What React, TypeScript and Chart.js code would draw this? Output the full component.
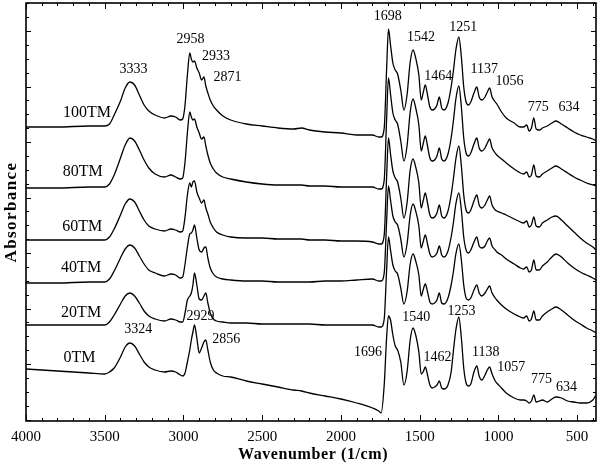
import React, { useEffect, useRef } from 'react';
import { Chart, registerables } from 'chart.js';

Chart.register(...registerables);

const SERIF = '"Liberation Serif", "DejaVu Serif", "Times New Roman", serif';

// Wavenumber grid (1/cm), shared by all spectra
const WAVENUMBERS = [
  4000, 3800, 3600, 3500, 3470, 3440, 3400, 3370, 3340, 3310,
  3280, 3250, 3220, 3180, 3120, 3080, 3050, 3020, 3005, 2990,
  2975, 2960, 2950, 2940, 2930, 2915, 2900, 2885, 2870, 2858,
  2845, 2830, 2810, 2790, 2750, 2700, 2600, 2500, 2400, 2300,
  2250, 2200, 2100, 2000, 1900, 1800,
  1760, 1745, 1725, 1710, 1698, 1685, 1670, 1655, 1640, 1620,
  1600, 1580, 1560, 1542, 1525, 1505, 1490, 1478, 1464, 1450,
  1435, 1420, 1405, 1390, 1375, 1360, 1345, 1320, 1300, 1285,
  1270, 1251, 1235, 1220, 1205, 1190, 1175, 1155, 1137, 1122,
  1105, 1085, 1070, 1056, 1040, 1020, 1010, 980, 950, 900,
  860, 840, 820, 805, 790, 775, 760, 740, 720, 690,
  660, 634, 600, 560, 520, 480, 440, 400, 380,
];

// Stacked absorbance (arbitrary offset units)
const TM100 = [
  294, 294, 295, 295, 297, 306, 320, 333, 339, 336,
  326, 316, 310, 306, 303, 305, 304, 301, 302, 316,
  346, 368, 362, 359, 360, 353, 348, 341, 344, 335,
  328, 321, 315, 311, 305, 301, 297, 295, 293, 292,
  293, 291, 289, 288, 286, 286,
  284, 284, 293, 351, 392, 376, 358, 351, 347, 331,
  311, 326, 359, 371, 363, 346, 321, 328, 336, 326,
  314, 311, 312, 316, 324, 313, 311, 318, 334, 351,
  371, 384, 364, 334, 319, 316, 319, 328, 334, 324,
  321, 324, 329, 333, 324, 319, 317, 309, 303, 298,
  294, 294, 296, 290, 293, 303, 292, 291, 293, 295,
  298, 300, 297, 293, 289, 286, 284, 282, 280,
];

const TM80 = [
  233, 233, 234, 234, 237, 246, 263, 276, 283, 280,
  271, 261, 253, 247, 244, 246, 244, 242, 243, 259,
  288, 309, 304, 301, 302, 294, 288, 282, 284, 275,
  266, 258, 252, 248, 244, 242, 239, 237, 236, 236,
  236, 235, 235, 234, 234, 234,
  232, 232, 241, 301, 343, 327, 308, 301, 297, 280,
  260, 275, 309, 322, 313, 296, 270, 277, 285, 275,
  263, 260, 261, 265, 273, 262, 260, 267, 283, 301,
  322, 335, 314, 283, 268, 265, 268, 277, 283, 273,
  270, 273, 278, 282, 273, 268, 266, 262, 258, 252,
  248, 247, 249, 244, 246, 256, 245, 244, 247, 250,
  253, 255, 252, 248, 244, 241, 238, 236, 235,
];

const TM60 = [
  181, 181, 181, 181, 184, 192, 206, 217, 222, 219,
  210, 201, 195, 192, 190, 192, 191, 189, 190, 204,
  226, 238, 234, 239, 240, 229, 223, 218, 221, 213,
  207, 199, 193, 189, 186, 184, 183, 183, 182, 182,
  182, 181, 181, 180, 180, 179,
  177, 177, 186, 243, 283, 267, 250, 243, 239, 223,
  203, 218, 251, 262, 254, 238, 213, 220, 228, 218,
  206, 203, 204, 208, 216, 205, 203, 210, 226, 243,
  262, 275, 255, 226, 211, 208, 211, 220, 226, 216,
  213, 216, 221, 225, 216, 211, 210, 208, 206, 202,
  199, 198, 200, 194, 196, 204, 195, 194, 198, 201,
  204, 205, 201, 195, 189, 183, 178, 174, 171,
];

const TM40 = [
  138, 138, 139, 139, 142, 150, 163, 172, 176, 173,
  165, 157, 151, 148, 145, 147, 146, 143, 144, 157,
  174, 187, 188, 191, 196, 183, 171, 169, 173, 174,
  163, 153, 147, 144, 142, 141, 140, 140, 139, 139,
  139, 139, 140, 140, 141, 142,
  140, 140, 148, 199, 235, 221, 205, 199, 196, 182,
  164, 177, 206, 217, 210, 195, 173, 179, 186, 177,
  167, 164, 165, 168, 175, 166, 164, 170, 184, 199,
  217, 228, 211, 184, 171, 168, 171, 179, 184, 175,
  173, 175, 180, 183, 175, 171, 169, 166, 162, 157,
  153, 152, 154, 149, 151, 161, 151, 151, 155, 159,
  164, 167, 164, 158, 153, 149, 146, 143, 141,
];

const TM20 = [
  96, 96, 96, 96, 99, 106, 117, 125, 128, 125,
  118, 110, 105, 102, 100, 102, 101, 99, 99, 108,
  121, 125, 128, 136, 148, 136, 122, 121, 125, 128,
  118, 108, 102, 100, 99, 98, 98, 97, 97, 97,
  97, 97, 96, 96, 96, 96,
  94, 94, 102, 150, 184, 171, 156, 150, 147, 133,
  117, 129, 157, 167, 160, 146, 125, 131, 137, 129,
  119, 117, 118, 121, 128, 118, 117, 123, 136, 150,
  167, 177, 161, 136, 123, 121, 123, 131, 136, 128,
  125, 128, 132, 135, 128, 123, 121, 116, 112, 107,
  104, 103, 105, 100, 102, 110, 101, 101, 105, 109,
  112, 114, 111, 106, 101, 97, 93, 90, 88,
];

const TM0 = [
  52, 50, 48, 47, 49, 53, 64, 74, 78, 75,
  67, 59, 54, 51, 49, 50, 49, 46, 45, 48,
  59, 71, 81, 89, 96, 83, 68, 73, 79, 81,
  71, 59, 51, 48, 45, 44, 40, 37, 34, 31,
  30, 28, 25, 22, 18, 13,
  10, 8, 36, 83, 105, 101, 86, 75, 71, 59,
  36, 49, 81, 93, 86, 69, 47, 49, 54, 46,
  36, 33, 34, 36, 40, 33, 32, 36, 49, 71,
  91, 104, 83, 53, 38, 35, 37, 49, 55, 45,
  41, 46, 51, 54, 47, 40, 38, 33, 28, 23,
  21, 21, 20, 18, 20, 26, 19, 20, 21, 19,
  22, 24, 23, 20, 19, 18, 18, 21, 26,
];

const SERIES_NAMES = ['100TM', '80TM', '60TM', '40TM', '20TM', '0TM'];
const SERIES_VALUES = [TM100, TM80, TM60, TM40, TM20, TM0];

// Series name labels (wavenumber, y)
const NAME_LABEL_WN = [3613, 3639, 3643, 3650, 3650, 3660];
const NAME_LABEL_Y = [308, 249, 194, 153, 108, 63];

// Peak annotations
const PEAK_TEXT = [
  '3333', '2958', '2933', '2871', '1698', '1542', '1464', '1251', '1137', '1056', '775', '634',
  '3324', '2929', '2856', '1696', '1540', '1462', '1253', '1138', '1057', '775', '634',
];
const PEAK_WN = [
  3318, 2955, 2793, 2720, 1703, 1492, 1382, 1223, 1089, 930, 747, 551,
  3287, 2892, 2729, 1828, 1522, 1387, 1234, 1080, 919, 726, 567,
];
const PEAK_Y = [
  352, 382, 365, 344, 405, 383.5, 345, 393.5, 352, 340, 313.5, 313.5,
  92, 105, 82, 69, 103.5, 63.5, 110, 69, 53.5, 42, 34,
];

const X_TICKS = [4000, 3500, 3000, 2500, 2000, 1500, 1000, 500];
const X_MINOR_STEP = 100;
const Y_MAJOR_FIRST = 57;
const Y_MAJOR_STEP = 55.5;

const framePlugin = {
  id: 'frameAndText',
  afterDatasetsDraw(chart: any) {
    const { ctx, chartArea: a, scales } = chart;
    const x = scales.x;
    const y = scales.y;
    ctx.save();
    ctx.strokeStyle = '#000';
    ctx.lineWidth = 1.6;
    ctx.strokeRect(a.left, a.top, a.right - a.left, a.bottom - a.top);

    ctx.lineWidth = 1;
    ctx.beginPath();
    for (let w = 400; w <= 4000; w += X_MINOR_STEP) {
      const px = Math.round(x.getPixelForValue(w)) + 0.5;
      const len = w % 500 === 0 ? 6 : 3;
      ctx.moveTo(px, a.bottom);
      ctx.lineTo(px, a.bottom - len);
      ctx.moveTo(px, a.top);
      ctx.lineTo(px, a.top + len);
    }
    const minor = Y_MAJOR_STEP / 4;
    for (let k = -8; k < 40; k++) {
      const v = Y_MAJOR_FIRST + k * minor;
      if (v <= y.min || v >= y.max) continue;
      const py = Math.round(y.getPixelForValue(v)) + 0.5;
      const len = k % 4 === 0 ? 5 : 3;
      ctx.moveTo(a.left, py);
      ctx.lineTo(a.left + len, py);
      ctx.moveTo(a.right, py);
      ctx.lineTo(a.right - len, py);
    }
    ctx.stroke();

    ctx.fillStyle = '#000';
    ctx.textAlign = 'center';
    ctx.textBaseline = 'middle';
    ctx.font = `14px ${SERIF}`;
    PEAK_TEXT.forEach((t, i) => {
      ctx.fillText(t, x.getPixelForValue(PEAK_WN[i]), y.getPixelForValue(PEAK_Y[i]));
    });
    ctx.font = `16px ${SERIF}`;
    SERIES_NAMES.forEach((t, i) => {
      ctx.fillText(t, x.getPixelForValue(NAME_LABEL_WN[i]), y.getPixelForValue(NAME_LABEL_Y[i]));
    });

    // axis titles
    ctx.font = `bold 16px ${SERIF}`;
    (ctx as any).letterSpacing = '0.6px';
    ctx.fillText('Wavenumber (1/cm)', (a.left + a.right) / 2 + 2, a.bottom + 34);
    ctx.save();
    ctx.translate(12, (a.top + a.bottom) / 2);
    ctx.rotate(-Math.PI / 2);
    ctx.font = `bold 17px ${SERIF}`;
    (ctx as any).letterSpacing = '1.4px';
    ctx.fillText('Absorbance', 0, 0);
    ctx.restore();
    ctx.restore();
  },
};

export default function App() {
  const ref = useRef<HTMLCanvasElement>(null);
  useEffect(() => {
    document.body.style.margin = '0';
    const canvas = ref.current;
    if (!canvas) return;
    const chart = new Chart(canvas, {
      type: 'line',
      data: {
        datasets: SERIES_NAMES.map((name, s) => ({
          label: name,
          data: WAVENUMBERS.map((w, i) => ({ x: w, y: SERIES_VALUES[s][i] })),
          borderColor: '#000',
          borderWidth: 1.3,
          pointRadius: 0,
          fill: false,
          cubicInterpolationMode: 'monotone' as const,
        })),
      },
      options: {
        animation: false,
        responsive: false,
        devicePixelRatio: 1,
        events: [],
        layout: { padding: { left: 26, right: 4, top: 3, bottom: 0 } },
        plugins: { legend: { display: false }, tooltip: { enabled: false } },
        scales: {
          x: {
            type: 'linear',
            min: 380,
            max: 4000,
            reverse: true,
            grid: { display: false, drawTicks: false },
            border: { display: false },
            afterBuildTicks: (axis: any) => {
              axis.ticks = X_TICKS.map((v) => ({ value: v }));
            },
            afterFit: (axis: any) => {
              axis.height = 45;
            },
            ticks: {
              font: { family: SERIF, size: 15 },
              color: '#000',
              padding: 7,
              autoSkip: false,
              maxRotation: 0,
              callback: (v: any) => String(v),
            },
          },
          y: { type: 'linear', min: 0, max: 418, display: false },
        },
      },
      plugins: [framePlugin],
    });
    return () => chart.destroy();
  }, []);
  return (
    <div style={{ width: 600, height: 466 }}>
      <canvas ref={ref} width={600} height={466} style={{ display: 'block' }} />
    </div>
  );
}
